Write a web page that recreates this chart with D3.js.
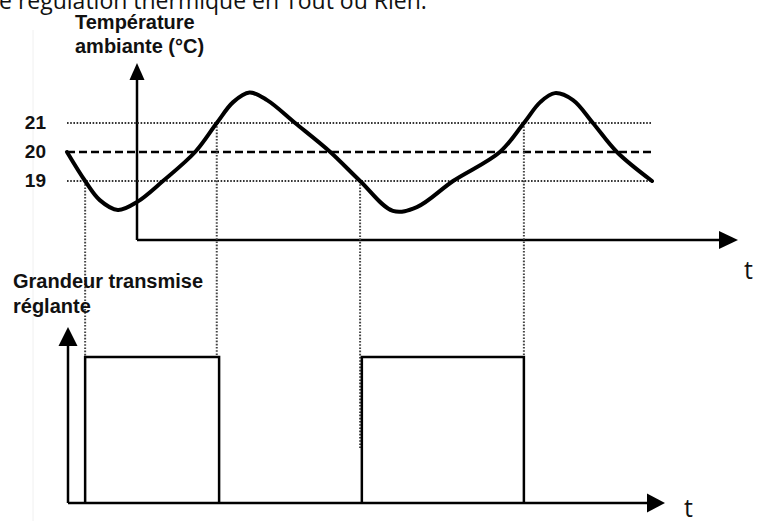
<!DOCTYPE html>
<html>
<head>
<meta charset="utf-8">
<script src="https://cdn.jsdelivr.net/npm/d3@7"></script>
<style>
  body { margin: 0; background: #fff; }
  svg { display: block; }
  .lbl { font-family: "Liberation Sans", Arial, sans-serif; font-weight: bold; font-size: 20px; fill: #111; }
  .tick { font-family: "Liberation Sans", Arial, sans-serif; font-weight: bold; font-size: 19px; fill: #111; }
  .plain { font-family: "Open Sans", sans-serif; fill: #111; }
</style>
</head>
<body>
<script>
// seuils de temperature (consigne 20, hysteresis +/- 1)
var levels = [19, 20, 21],
    setpoint = 20;

// releve de la temperature ambiante (temps arbitraire, degC)
var times = [0, 0.31, 0.56, 0.87, 1.20, 1.64, 2.19, 2.56, 2.84, 3.12, 3.42, 3.90, 4.50, 5.01, 5.57, 5.98, 6.60, 7.40, 7.81, 8.09, 8.34, 8.65, 8.99, 9.40, 10],
    temps = [20, 19, 18.34, 18.0, 18.28, 19, 20, 21, 21.72, 22.05, 21.79, 21, 20, 19, 17.97, 18.10, 19, 20, 21, 21.72, 22.03, 21.79, 21, 20, 19];

// commande tout ou rien : intervalles ou le chauffage est en marche
var onStart = [0.31, 5.04],
    onEnd = [2.60, 7.81];

// instants ou les seuils sont franchis (lignes de rappel)
var markT = [0.31, 2.56, 5.01, 7.81],
    markT0 = [19, 21, 19, 21];

var W = 759, H = 521;

var svg = d3.select("body").append("svg").attr("width", W).attr("height", H),
    x = d3.scaleLinear().domain([0, 10]).range([67, 652]),
    y = d3.scaleLinear().domain([19, 21]).range([181, 123]),
    yb = d3.scaleLinear().domain([0, 1]).range([503, 357]);

// fine bordure grise a gauche
svg.append("line").attr("x1", 33).attr("x2", 33).attr("y1", 30).attr("y2", H)
    .attr("stroke", "#f0f0f0").attr("stroke-width", 1);

// titre coupe en haut
svg.append("text").attr("class", "plain").attr("x", -1).attr("y", 9)
    .style("font-size", "23px")
    .text("e régulation thermique en Tout ou Rien:");

function arrow(px, py, dir, len, wid) {
    var p;
    if (dir == "up") p = [[px, py], [px - wid / 2, py + len], [px + wid / 2, py + len]];
    else p = [[px, py], [px - len, py - wid / 2], [px - len, py + wid / 2]];
    svg.append("path").attr("d", "M" + p.join("L") + "Z").attr("fill", "#000");
}

// ---- graphe du haut ----
var ax0 = 137, ay0 = 240;
svg.append("line").attr("x1", ax0).attr("x2", ax0).attr("y1", 75).attr("y2", ay0)
    .attr("stroke", "#000").attr("stroke-width", 2.5);
svg.append("line").attr("x1", ax0).attr("x2", 724).attr("y1", ay0).attr("y2", ay0)
    .attr("stroke", "#000").attr("stroke-width", 2.5);
arrow(ax0, 63, "up", 17, 15);
arrow(738, ay0, "right", 19, 18);

levels.forEach(function(v) {
    svg.append("line")
        .attr("x1", x(0)).attr("x2", x(10)).attr("y1", y(v)).attr("y2", y(v))
        .attr("stroke", v == setpoint ? "#000" : "#333")
        .attr("stroke-width", v == setpoint ? 2.5 : 2)
        .attr("stroke-dasharray", v == setpoint ? "8,4" : "1.6,1.6");
    svg.append("text").attr("class", "tick").attr("x", 46).attr("y", y(v) + 6)
        .attr("text-anchor", "end").text(v);
});

// lignes de rappel verticales
markT.forEach(function(t, i) {
    svg.append("line")
        .attr("x1", x(t)).attr("x2", x(t))
        .attr("y1", y(markT0[i])).attr("y2", i == 2 ? 448 : yb(1))
        .attr("stroke", "#444").attr("stroke-width", 2).attr("stroke-dasharray", "1.6,1.6");
});

var line = d3.line().x(function(d, i) { return x(times[i]); })
    .y(function(d) { return y(d); })
    .curve(d3.curveCatmullRom.alpha(0.5));
svg.append("path").attr("d", line(temps)).attr("fill", "none")
    .attr("stroke", "#000").attr("stroke-width", 4).attr("stroke-linejoin", "round").attr("stroke-linecap", "round");

svg.append("text").attr("class", "lbl").attr("x", 75).attr("y", 29).text("Température");
svg.append("text").attr("class", "lbl").attr("x", 75).attr("y", 53).text("ambiante (°C)");
svg.append("text").attr("class", "plain").attr("x", 744).attr("y", 279).style("font-size", "25px").text("t");

// ---- graphe du bas ----
var bx0 = 68;
svg.append("line").attr("x1", bx0).attr("x2", bx0).attr("y1", 340).attr("y2", yb(0))
    .attr("stroke", "#000").attr("stroke-width", 2.5);
svg.append("line").attr("x1", bx0).attr("x2", 650).attr("y1", yb(0)).attr("y2", yb(0))
    .attr("stroke", "#000").attr("stroke-width", 2.5);
arrow(bx0, 327, "up", 19, 19);
arrow(665, yb(0), "right", 18, 19);

onStart.forEach(function(t, i) {
    svg.append("path")
        .attr("d", "M" + x(t) + "," + yb(0) + "V" + yb(1) + "H" + x(onEnd[i]) + "V" + yb(0))
        .attr("fill", "none").attr("stroke", "#000").attr("stroke-width", 2.5);
});

svg.append("text").attr("class", "lbl").attr("x", 13).attr("y", 288).text("Grandeur transmise");
svg.append("text").attr("class", "lbl").attr("x", 13).attr("y", 313).text("réglante");
svg.append("text").attr("class", "plain").attr("x", 684).attr("y", 517).style("font-size", "25px").text("t");
</script>
</body>
</html>
